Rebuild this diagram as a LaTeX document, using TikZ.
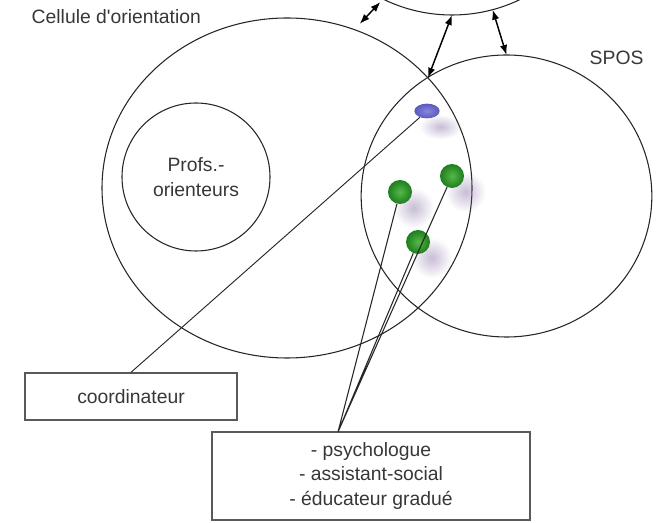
\documentclass[tikz,border=0pt]{standalone}
\usepackage{fontspec}
\setmainfont{Liberation Sans}[Ligatures=TeXOff]
\usetikzlibrary{arrows.meta,shapes.geometric,shadows,fadings}
\definecolor{ink}{RGB}{55,55,55}
\definecolor{dotgreen}{RGB}{30,125,30}
\definecolor{dotlight}{RGB}{85,185,70}
\definecolor{dotblue}{RGB}{90,90,190}
\definecolor{bluelight}{RGB}{135,135,220}
\definecolor{halo}{RGB}{130,105,160}
\tikzfading[name=softhalo,inner color=transparent!20,outer color=transparent!100]

\begin{document}
\begin{tikzpicture}[x=0.75pt,y=-0.75pt,>={Latex[length=7.5pt,width=5.5pt]},
  font=\fontsize{14.5}{18.5}\selectfont,text=ink,
  ring/.style={draw=black!85,line width=0.8pt,inner sep=0pt,outer sep=0pt},
  haze/.style={circular drop shadow={shadow xshift=6pt,shadow yshift=-7pt,
      shadow scale=1.7,fill=halo,opacity=0.55,path fading=softhalo}},
  member/.style={circle,minimum size=18pt,inner sep=0pt,
    inner color=dotlight,outer color=dotgreen,haze},
  box/.style={rectangle,draw=black!65,line width=1pt,align=center},
  link/.style={<->,line width=1.1pt,black}]

  \useasboundingbox (0,0) rectangle (664,523);
  \begin{scope}
    \clip (0,0) rectangle (664,523);

    % the three services
    \node[ring,circle,minimum size=235.5pt] (top) at (452,-142) {};
    \node[ring,ellipse,minimum width=277.5pt,minimum height=255pt] (big) at (287,188) {};
    \node[ring,ellipse,minimum width=218pt,minimum height=211.5pt] (spos) at (506.5,196) {};
    \node[ring,circle,minimum size=111pt,align=center] (profs) at (196,177) {Profs.-\\orienteurs};

    \node[anchor=base west] (cellule) at (27,24) {Cellule d'orientation};
    \node[anchor=base west] (sposlabel) at (585,65) {SPOS};

    % people in the overlap
    \node[ellipse,minimum width=19pt,minimum height=11pt,inner sep=0pt,
      inner color=bluelight,outer color=dotblue,haze] (blue) at (427,111) {};
    \node[member] (g1) at (400,192) {};
    \node[member] (g2) at (452,176) {};
    \node[member] (g3) at (418,242) {};

    \node[box,minimum width=159pt,minimum height=35.25pt] (coord) at (131,396.5) {coordinateur};
    \node[box,minimum width=238.5pt,minimum height=66pt] (team) at (371,476)
      {- psychologue\\- assistant-social\\- éducateur gradué};
    \coordinate (fan) at (338,432);

    \draw[black!85,line width=0.7pt] (coord.north) -- (blue);
    \draw[black!85,line width=0.8pt] (fan) -- (g1)
      (fan) -- (g2)
      (fan) -- (g3);

    \path[link]
      (top.-116) edge[shorten <=3pt,shorten >=6pt] (big.67)
      (top.-90) edge (big.38)
      (top.-75) edge (spos.north);
  \end{scope}
\end{tikzpicture}
\end{document}
